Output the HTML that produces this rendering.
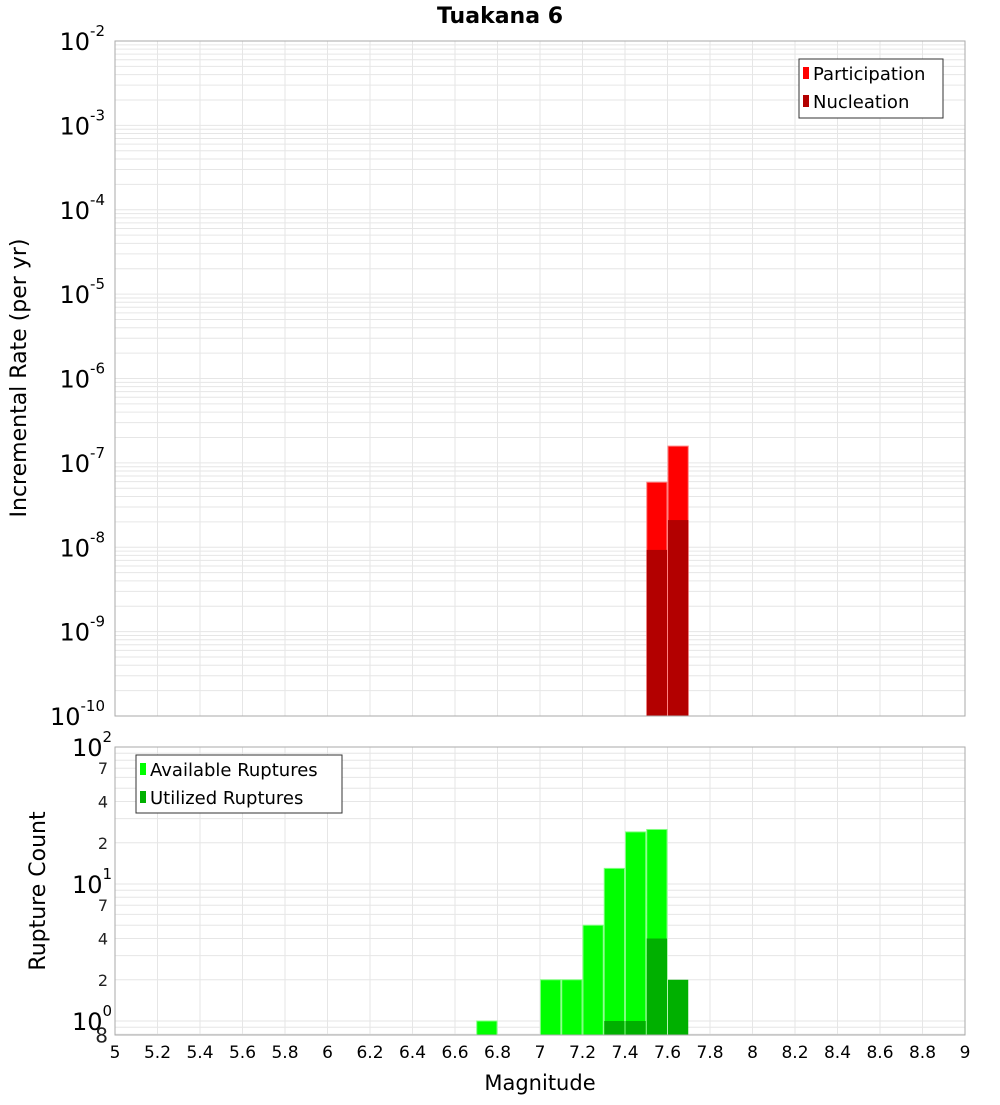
<!DOCTYPE html>
<html><head><meta charset="utf-8"><style>
body{margin:0;background:#fff;font-family:"Liberation Sans","DejaVu Sans",sans-serif}
</style></head><body>
<svg id="c" width="1000" height="1100" xmlns="http://www.w3.org/2000/svg" font-family="DejaVu Sans, Liberation Sans, sans-serif"></svg>
<script>
const mags=[6.75,7.05,7.15,7.25,7.35,7.45,7.55,7.65];
const available=[1,2,2,5,13,24,25,0];
const utilized=[0,0,0,0,1,1,4,2];
const rateMags=[7.55,7.65];
const participation=[5.9e-8,1.58e-7];
const nucleation=[9.3e-9,2.1e-8];
const xTicks=[5,5.2,5.4,5.6,5.8,6,6.2,6.4,6.6,6.8,7,7.2,7.4,7.6,7.8,8,8.2,8.4,8.6,8.8,9];

const svg=document.getElementById('c');
const NS='http://www.w3.org/2000/svg';
function mk(t,a,p){const e=document.createElementNS(NS,t);for(const k in a)e.setAttribute(k,a[k]);(p||svg).appendChild(e);return e;}
const L=115,R=965;
const X=m=>L+(m-5)/4*(R-L);
const T0=41,T1=716; const Yt=v=>T0+(-2-Math.log10(v))*(T1-T0)/8;
const B0=747,B1=1035; const dec=137; const Yb=v=>884-(Math.log10(v)-1)*dec;

// panels
function grid(top,bot,yfun,lo,hi){
  for(let d=lo;d<hi;d++)for(let k=1;k<10;k++){const v=k*Math.pow(10,d);const y=yfun(v);if(y<top-0.5||y>bot+0.5)continue;
    const g=mk('line',{x1:L,x2:R,y1:y,y2:y,stroke:'#e6e6e6','stroke-width':1});
    }
  xTicks.forEach(t=>{const g=mk('line',{x1:X(t),x2:X(t),y1:top,y2:bot,stroke:'#e6e6e6','stroke-width':1});
    });
}
grid(T0,T1,Yt,-10,-1);
grid(B0,B1,Yb,-1,3);

// top bars
rateMags.forEach((m,i)=>{
  const x=X(m-0.05),w=X(m+0.05)-x;
  const p=mk('rect',{x:x+0.5,y:Yt(participation[i]),width:w-1,height:T1-Yt(participation[i]),fill:'#ff0000',stroke:'#ff8080','stroke-width':1});
  
  const n=mk('rect',{x:x+0.5,y:Yt(nucleation[i]),width:w-1,height:T1-Yt(nucleation[i]),fill:'#b30000'});
  
});
// bottom bars
mags.forEach((m,i)=>{
  const x=X(m-0.05),w=X(m+0.05)-x;
  if(available[i]>0){const a=mk('rect',{x:x+0.5,y:Yb(available[i]),width:w-1,height:B1-Yb(available[i]),fill:'#00ff00',stroke:'#80ff80','stroke-width':1});
    }
  if(utilized[i]>0){const u=mk('rect',{x:x+0.5,y:Yb(utilized[i]),width:w-1,height:B1-Yb(utilized[i]),fill:'#00b000'});
    }
});

// frames
let f=mk('rect',{x:L,y:T0,width:R-L,height:T1-T0,fill:'none',stroke:'#aaaaaa'});
f=mk('rect',{x:L,y:B0,width:R-L,height:B1-B0,fill:'none',stroke:'#aaaaaa'});

// y tick labels top
for(let d=-10;d<=-2;d++){const y=Yt(Math.pow(10,d));
  const t=mk('text',{x:105,y:y+9,'text-anchor':'end','font-size':24,fill:'#000'});
  
  t.textContent='10';const s=mk('tspan',{dy:-14,'font-size':15},t);s.textContent=String(d);}
// bottom y labels
[0,1,2].forEach(d=>{const y=Yb(Math.pow(10,d));
  const t=mk('text',{x:72,y:y+9,'font-size':24,fill:'#000'});
  
  t.textContent='10';const s=mk('tspan',{dy:-14,'font-size':15},t);s.textContent=String(d);});
[[7,1],[4,1],[2,1],[7,0],[4,0],[2,0],[8,-1]].forEach(([k,d])=>{const y=Yb(k*Math.pow(10,d));
  const t=mk('text',{x:108,y:y+(k==8?8:6),'text-anchor':'end','font-size':k==8?20:16,fill:'#222'});
  t.textContent=String(k);});
// x tick labels
xTicks.forEach(v=>{const t=mk('text',{x:X(v),y:1058,'text-anchor':'middle','font-size':17,fill:'#000'});
  
  t.textContent=String(Math.round(v*10)/10);});

function txt(s,a,name){const t=mk('text',a);t.textContent=s;return t;}
txt('Tuakana 6',{x:500,y:23,'text-anchor':'middle','font-size':22,'font-weight':'bold'},'chart-title');
txt('Magnitude',{x:540,y:1090,'text-anchor':'middle','font-size':21},'x-axis-title');
txt('Incremental Rate (per yr)',{x:0,y:0,'text-anchor':'middle','font-size':22,transform:'translate(26,378) rotate(-90)'},'top-y-axis-title');
txt('Rupture Count',{x:0,y:0,'text-anchor':'middle','font-size':22,transform:'translate(45,891) rotate(-90)'},'bottom-y-axis-title');

function legend(x,y,w,h,items,name){const g=mk('g',{});
  mk('rect',{x:x,y:y,width:w,height:h,fill:'#fff',stroke:'#333','stroke-width':1},g);
  items.forEach(([lab,col],i)=>{const yy=y+14+i*28;
    mk('rect',{x:x+4,y:yy-6,width:6,height:12,fill:col},g);
    const t=mk('text',{x:x+14,y:yy+7,'font-size':18},g);t.textContent=lab;});}
legend(799,59,144,59,[['Participation','#ff0000'],['Nucleation','#b30000']],'top-legend');
legend(136,755,206,58,[['Available Ruptures','#00ff00'],['Utilized Ruptures','#00b000']],'bottom-legend');
</script>
</body></html>
